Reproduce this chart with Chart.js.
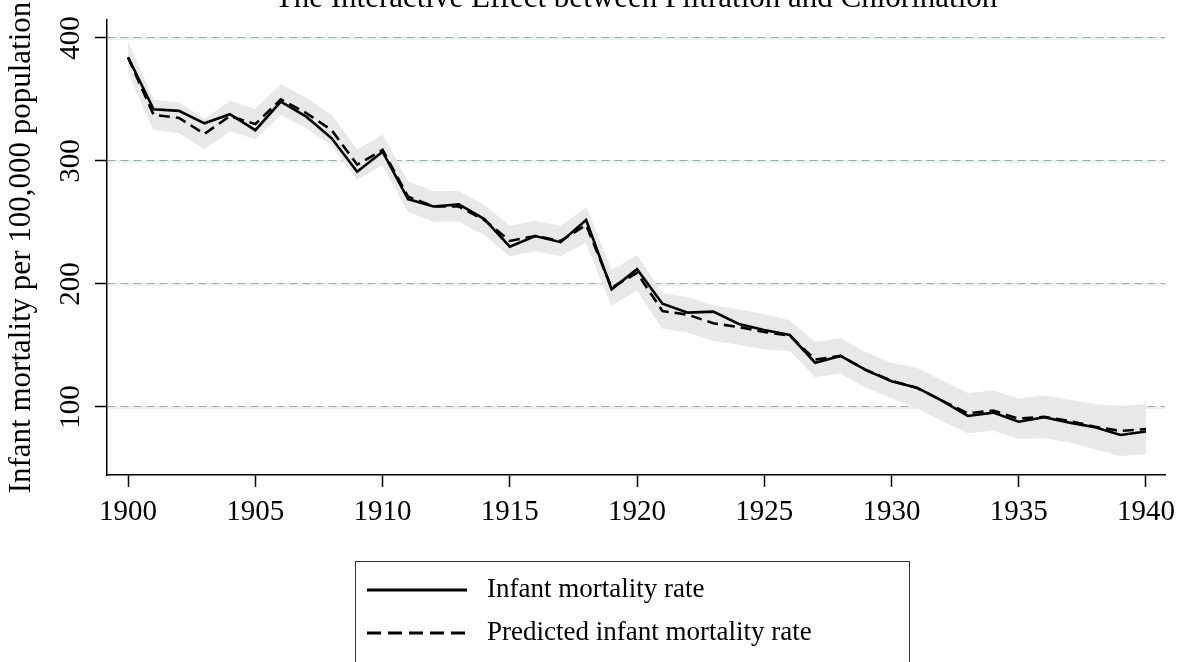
<!DOCTYPE html>
<html>
<head>
<meta charset="utf-8">
<script src="https://cdn.jsdelivr.net/npm/chart.js@4"></script>
<style>
html,body{margin:0;padding:0;background:#fff;overflow:hidden;}
#wrap{width:1188px;height:680px;}
</style>
</head>
<body>
<div id="wrap"><canvas id="c" width="1188" height="680"></canvas></div>
<script>
const chartTitle = 'The Interactive Effect between Filtration and Chlorination';
const yAxisTitle = 'Infant mortality per 100,000 population';
const seriesLabels = ['Infant mortality rate', 'Predicted infant mortality rate'];

const years = [1900,1901,1902,1903,1904,1905,1906,1907,1908,1909,
               1910,1911,1912,1913,1914,1915,1916,1917,1918,1919,
               1920,1921,1922,1923,1924,1925,1926,1927,1928,1929,
               1930,1931,1932,1933,1934,1935,1936,1937,1938,1939,1940];

const observed = [384.3,342,340.7,330.6,338,325,348.2,336,318.4,291.3,
                  307.6,269,263,264.7,252.8,230.4,239,234,252,195.7,
                  212,184,176.7,177.5,167.5,162.6,158.5,136,141.5,130,
                  121,115.7,105,92.7,95.4,88,91.6,87.3,83.5,77.2,80];

const predicted = [384,337.5,335,322,336.5,330,350,339,325,297,
                   309,271,263,263,252,235,239,235,248,197,
                   209,178,175,168,165,161,158,138.5,141.5,130,
                   121.5,115.5,105,95,97,90.5,92,88.5,84,80.5,82];

const ciUpper = [396,349.5,347,334,348.5,342,362,351,337,309,
                 321,283,275,275,264,247,251,247,262,211,
                 223,192,189,182,179,175,170,152.5,155.5,144,
                 135.5,131.5,121,111,113,106.5,109,105.5,102,100.5,102];

const ciLower = [372,325.5,323,310,324.5,318,338,327,313,285,
                 297,259,251,251,240,223,227,223,234,183,
                 195,164,161,154,151,147,146,124.5,127.5,116,
                 107.5,99.5,89,79,81,74.5,75,71.5,66,60.5,62];

const xTickValues = [1900,1905,1910,1915,1920,1925,1930,1935,1940];
const yTickValues = [100,200,300,400];

const FONT = '"Liberation Serif", "Times New Roman", serif';
const TITLE_FS = 31;
const TICK_FS = 29;
const LEGEND_FS = 27;
const toPoints = arr => years.map((yr, i) => ({x: yr, y: arr[i]}));

const gridHalo = {
  id: 'gridHalo',
  beforeDraw(chart) {
    const {ctx, chartArea, scales: {y}} = chart;
    ctx.save();
    ctx.strokeStyle = '#eaf1f3';
    ctx.lineWidth = 3;
    y.ticks.forEach(t => {
      const py = Math.round(y.getPixelForValue(t.value)) + 0.5;
      ctx.beginPath();
      ctx.moveTo(chartArea.left, py);
      ctx.lineTo(chartArea.right, py);
      ctx.stroke();
    });
    ctx.restore();
  }
};

const yLabels = {
  id: 'yLabels',
  afterDraw(chart) {
    const {ctx, scales: {y}} = chart;
    ctx.save();
    ctx.font = TICK_FS + 'px ' + FONT;
    ctx.fillStyle = '#000';
    ctx.textAlign = 'center';
    ctx.textBaseline = 'middle';
    y.ticks.forEach(t => {
      const py = y.getPixelForValue(t.value);
      ctx.save();
      ctx.translate(71, py);
      ctx.rotate(-Math.PI / 2);
      ctx.fillText(String(t.value), 0, 0);
      ctx.restore();
    });
    ctx.restore();
  }
};

const boxLegend = {
  id: 'boxLegend',
  afterDraw(chart) {
    const {ctx} = chart;
    const items = chart.data.datasets.filter(d => d.label);
    ctx.save();
    ctx.strokeStyle = '#333';
    ctx.lineWidth = 1;
    ctx.strokeRect(355.5, 561.5, 554, 130);
    ctx.font = LEGEND_FS + 'px ' + FONT;
    ctx.fillStyle = '#000';
    ctx.textAlign = 'left';
    ctx.textBaseline = 'middle';
    items.forEach((d, i) => {
      const cy = 590 + i * 43;
      ctx.strokeStyle = d.borderColor;
      ctx.lineWidth = 3;
      ctx.setLineDash(d.borderDash ? [14, 7] : []);
      ctx.beginPath();
      ctx.moveTo(367, cy);
      ctx.lineTo(467, cy);
      ctx.stroke();
      ctx.fillText(d.label, 487, cy);
    });
    ctx.restore();
  }
};

new Chart(document.getElementById('c'), {
  type: 'line',
  data: {
    datasets: [
      {label: seriesLabels[0], data: toPoints(observed), borderColor: '#000', borderWidth: 2.6,
       pointRadius: 0, fill: false, tension: 0},
      {label: seriesLabels[1], data: toPoints(predicted), borderColor: '#000', borderWidth: 2.6,
       borderDash: [11, 6], pointRadius: 0, fill: false, tension: 0},
      {label: '', data: toPoints(ciUpper), borderColor: '#e3ebed', borderWidth: 1,
       backgroundColor: '#e8e8e8', pointRadius: 0, fill: '+1', tension: 0},
      {label: '', data: toPoints(ciLower), borderColor: '#e3ebed', borderWidth: 1,
       pointRadius: 0, fill: false, tension: 0}
    ]
  },
  options: {
    responsive: false,
    animation: false,
    devicePixelRatio: 1,
    layout: {padding: {left: 0, right: 23, top: 0, bottom: 145}},
    plugins: {
      legend: {display: false},
      tooltip: {enabled: false},
      title: {
        display: true, text: chartTitle, fullSize: false, color: '#000',
        font: {family: FONT, size: TITLE_FS, weight: 'normal'},
        padding: {top: -20.1, bottom: 2.9}
      }
    },
    scales: {
      x: {
        type: 'linear', min: 1899.17, max: 1940.75,
        afterFit: s => { s.height = 60; },
        afterBuildTicks: s => { s.ticks = xTickValues.map(v => ({value: v})); },
        ticks: {includeBounds: false, padding: 8, color: '#000', maxRotation: 0,
                font: {family: FONT, size: TICK_FS}, callback: v => String(v)},
        grid: {drawOnChartArea: false, drawTicks: true, tickLength: 12, tickColor: '#000', tickWidth: 1.5},
        border: {display: true, color: '#000', width: 1.5}
      },
      y: {
        type: 'linear', min: 44.7, max: 414.6,
        afterFit: s => { s.width = 107; },
        afterBuildTicks: s => { s.ticks = yTickValues.map(v => ({value: v})); },
        ticks: {display: false},
        grid: {drawOnChartArea: true, color: '#a6a6a6', lineWidth: 1, drawTicks: true,
               tickLength: 12, tickColor: '#000', tickWidth: 1.5, tickBorderDash: []},
        border: {display: true, color: '#000', width: 1.5, dash: [8, 5]},
        title: {display: true, text: yAxisTitle, color: '#000',
                font: {family: FONT, size: TITLE_FS, weight: 'normal'}, padding: {top: 3.4, bottom: 0}}
      }
    }
  },
  plugins: [gridHalo, yLabels, boxLegend]
});
</script>
</body>
</html>
